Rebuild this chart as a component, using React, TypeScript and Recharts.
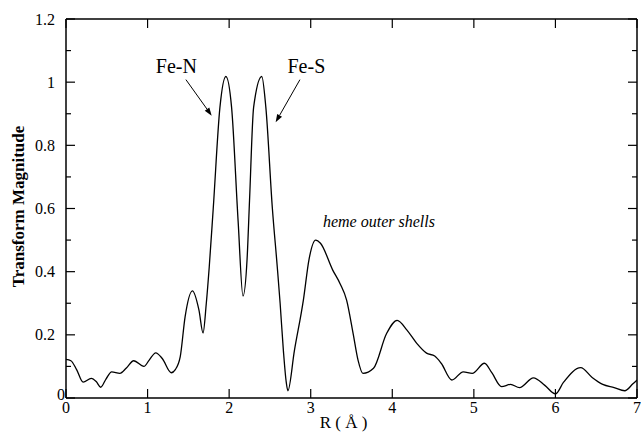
import { LineChart, Line, XAxis, YAxis, ReferenceLine, ReferenceDot, Label } from 'recharts';

// R (Å) sample positions and Fourier transform magnitude
const rValues = [
  0.0, 0.06, 0.13, 0.21, 0.31, 0.37, 0.425, 0.49, 0.56, 0.66, 0.74, 0.83, 0.955, 1.02, 1.1,
  1.18, 1.29, 1.34, 1.4, 1.46, 1.55, 1.63, 1.68, 1.72, 1.756, 1.805, 1.887, 1.96, 2.03, 2.11,
  2.17, 2.22, 2.25, 2.3, 2.4, 2.45, 2.53, 2.59, 2.625, 2.665, 2.7, 2.72, 2.8, 2.91, 2.98, 3.06,
  3.12, 3.27, 3.36, 3.44, 3.52, 3.58, 3.64, 3.77, 3.93, 4.06, 4.18, 4.3, 4.42, 4.52, 4.6,
  4.73, 4.87, 4.98, 5.13, 5.22, 5.34, 5.45, 5.56, 5.73, 5.87, 6.0, 6.1, 6.31, 6.45, 6.58,
  6.72, 6.85, 6.95, 7.0,
];
const magnitude = [
  0.122, 0.118, 0.09, 0.05, 0.062, 0.052, 0.034, 0.06, 0.083, 0.078, 0.095, 0.118, 0.1, 0.12, 0.143,
  0.125, 0.08, 0.09, 0.13, 0.257, 0.339, 0.278, 0.206, 0.3, 0.415, 0.6, 0.92, 1.018, 0.92, 0.56,
  0.323, 0.44, 0.626, 0.92, 1.018, 0.92, 0.6, 0.415, 0.3, 0.15, 0.05, 0.023, 0.15, 0.31, 0.44, 0.5,
  0.49, 0.405, 0.362, 0.31, 0.204, 0.12, 0.078, 0.094, 0.204, 0.246, 0.215, 0.173, 0.142, 0.133, 0.11,
  0.057, 0.083, 0.078, 0.11, 0.08, 0.036, 0.043, 0.033, 0.064, 0.04, 0.013, 0.05, 0.096, 0.065, 0.043,
  0.033, 0.023, 0.045, 0.057,
];

const xTicks = [0, 1, 2, 3, 4, 5, 6, 7];
const xTickLabels = ['0', '1', '2', '3', '4', '5', '6', '7'];
const yTicks = [0, 0.1, 0.2, 0.3, 0.4, 0.5, 0.6, 0.7, 0.8, 0.9, 1.0, 1.1, 1.2];
const yTickLabels = ['0', '', '0.2', '', '0.4', '', '0.6', '', '0.8', '', '1', '', '1.2'];

const data = rValues.map((r, i) => ({ r, m: magnitude[i] }));

const FONT = "'Liberation Serif', 'Times New Roman', Times, serif";
const txt = (size: number, extra: any = {}) => ({ fontFamily: FONT, fontSize: size, ...extra });

const BottomTick = (props: any) => {
  const { x, y, payload } = props;
  const i = xTicks.indexOf(payload.value);
  return (
    <g>
      <line x1={x} y1={y} x2={x} y2={y - 9} stroke="#000" strokeWidth={1.2} />
      <text x={x} y={y + 15} textAnchor="middle" fill="#000" style={txt(16)}>
        {xTickLabels[i]}
      </text>
    </g>
  );
};

const TopTick = (props: any) => {
  const { x, y } = props;
  return <line x1={x} y1={y} x2={x} y2={y + 9} stroke="#000" strokeWidth={1.2} />;
};

const LeftTick = (props: any) => {
  const { x, y, payload } = props;
  const i = yTicks.findIndex((t) => Math.abs(t - payload.value) < 1e-6);
  const label = yTickLabels[i];
  const major = label !== '';
  const isZero = payload.value === 0;
  return (
    <g>
      <line x1={x} y1={y} x2={x + (major ? 9 : 5)} y2={y} stroke="#000" strokeWidth={1.2} />
      {major && (
        <text
          x={isZero ? x - 1 : x - 11}
          y={isZero ? y + 2 : y + 5.5}
          textAnchor="end"
          fill="#000"
          style={txt(16)}
        >
          {label}
        </text>
      )}
    </g>
  );
};

const RightTick = (props: any) => {
  const { x, y, payload } = props;
  const i = yTicks.findIndex((t) => Math.abs(t - payload.value) < 1e-6);
  const major = yTickLabels[i] !== '';
  return <line x1={x} y1={y} x2={x - (major ? 9 : 5)} y2={y} stroke="#000" strokeWidth={1.2} />;
};

const ArrowShape = (p: any) => {
  const { x1, y1, x2, y2 } = p;
  const a = Math.atan2(y2 - y1, x2 - x1);
  const len = 8;
  const w = 2.8;
  const bx = x2 - len * Math.cos(a);
  const by = y2 - len * Math.sin(a);
  const pts = `${x2},${y2} ${bx - w * Math.sin(a)},${by + w * Math.cos(a)} ${bx + w * Math.sin(a)},${by - w * Math.cos(a)}`;
  return (
    <g>
      <line x1={x1} y1={y1} x2={bx} y2={by} stroke="#000" strokeWidth={1} />
      <polygon points={pts} fill="#000" />
    </g>
  );
};

const textShape = (text: string, opts: { italic?: boolean; size: number; anchor: string }) => (p: any) => (
  <text
    x={p.cx}
    y={p.cy}
    textAnchor={opts.anchor}
    fill="#000"
    style={txt(opts.size, { fontStyle: opts.italic ? 'italic' : 'normal' })}
  >
    {text}
  </text>
);

export default function App() {
  return (
    <div style={{ position: 'absolute', left: 0, top: 0, background: '#fff' }}>
      <LineChart width={641} height={432} data={data} margin={{ top: 18, right: 3, bottom: 0, left: 0 }}>
        <XAxis
          dataKey="r"
          type="number"
          domain={[0, 7]}
          ticks={xTicks}
          allowDataOverflow
          height={34}
          tickSize={0}
          tickMargin={0}
          tickLine={false}
          tick={<BottomTick />}
          axisLine={{ stroke: '#000', strokeWidth: 1.5 }}
          interval={0}
        >
          <Label
            content={(lp: any) => {
              const vb = lp.viewBox;
              return (
                <text x={vb.x + vb.width / 2 - 8} y={vb.y + 30} textAnchor="middle" fill="#000" style={txt(17)}>
                  R ( Å )
                </text>
              );
            }}
          />
        </XAxis>
        <XAxis
          xAxisId="top"
          dataKey="r"
          orientation="top"
          type="number"
          domain={[0, 7]}
          ticks={xTicks}
          allowDataOverflow
          height={1}
          tickSize={0}
          tickMargin={0}
          tickLine={false}
          tick={<TopTick />}
          axisLine={{ stroke: '#000', strokeWidth: 1.5 }}
          interval={0}
        />
        <YAxis
          type="number"
          domain={[0, 1.2]}
          ticks={yTicks}
          allowDataOverflow
          width={66}
          tickSize={0}
          tickMargin={0}
          tickLine={false}
          tick={<LeftTick />}
          axisLine={{ stroke: '#000', strokeWidth: 1.5 }}
          interval={0}
        >
          <Label
            content={(lp: any) => {
              const vb = lp.viewBox;
              const cx = vb.x + 24;
              const cy = vb.y + vb.height / 2 - 2;
              return (
                <text
                  x={cx}
                  y={cy}
                  transform={`rotate(-90 ${cx} ${cy})`}
                  textAnchor="middle"
                  fill="#000"
                  style={txt(17, { fontWeight: 'bold' })}
                >
                  Transform Magnitude
                </text>
              );
            }}
          />
        </YAxis>
        <YAxis
          yAxisId="right"
          orientation="right"
          type="number"
          domain={[0, 1.2]}
          ticks={yTicks}
          allowDataOverflow
          width={1}
          tickSize={0}
          tickMargin={0}
          tickLine={false}
          tick={<RightTick />}
          axisLine={{ stroke: '#000', strokeWidth: 1.5 }}
          interval={0}
        />
        {/* invisible series so the top and right frame axes get drawn */}
        <Line
          xAxisId="top"
          yAxisId="right"
          type="monotone"
          dataKey="m"
          stroke="none"
          dot={false}
          activeDot={false}
          isAnimationActive={false}
        />
        <Line
          type="monotone"
          dataKey="m"
          stroke="#000"
          strokeWidth={1.3}
          dot={false}
          activeDot={false}
          isAnimationActive={false}
        />
        <ReferenceLine segment={[{ x: 1.47, y: 1.008 }, { x: 1.786, y: 0.894 }]} shape={ArrowShape} />
        <ReferenceLine segment={[{ x: 2.868, y: 1.008 }, { x: 2.57, y: 0.873 }]} shape={ArrowShape} />
        <ReferenceDot x={1.353} y={1.03} r={1} shape={textShape('Fe-N', { size: 20, anchor: 'middle' })} />
        <ReferenceDot x={2.947} y={1.03} r={1} shape={textShape('Fe-S', { size: 20, anchor: 'middle' })} />
        <ReferenceDot
          x={3.15}
          y={0.543}
          r={1}
          shape={textShape('heme outer shells', { size: 16, anchor: 'start', italic: true })}
        />
      </LineChart>
    </div>
  );
}
